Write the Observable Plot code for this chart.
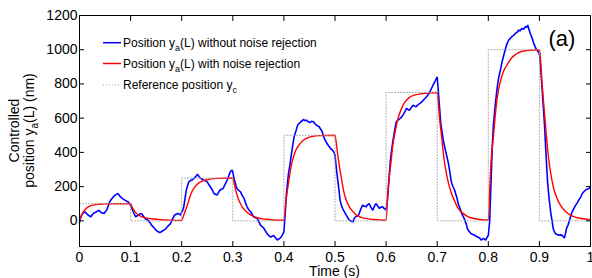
<!DOCTYPE html>
<html><head><meta charset="utf-8">
<script src="https://cdn.jsdelivr.net/npm/d3@7"></script>
<script src="https://cdn.jsdelivr.net/npm/@observablehq/plot@0.6"></script>
<style>html,body{margin:0;padding:0;background:#fff}svg{display:block}</style>
</head><body><div id="chart"></div>
<script>
const xTicks = [0,0.1,0.2,0.3,0.4,0.5,0.6,0.7,0.8,0.9,1];
const yTicks = [0,200,400,600,800,1000,1200];
const legendLabels = ["Position y|a|(L) without noise rejection","Position y|a|(L) with noise rejection","Reference position y|c|"];

// reference position y_c (step levels)
const refPts = [[0,100],[0.1,0],[0.2,250],[0.3,0],[0.4,500],[0.5,0],[0.6,750],[0.7,0],[0.8,1000],[0.9,0],[1,0]];

// with noise rejection
const redPts = [
[0,0],[0.002,18],[0.004,33],[0.007,50],[0.01,62],[0.015,77],[0.02,86],[0.03,94],[0.04,97],[0.05,99],[0.07,100],[0.1,100],
[0.103,80],[0.106,65],[0.11,48],[0.115,35],[0.12,26],[0.128,19],[0.14,12],[0.155,8],[0.175,4],[0.2,2],
[0.203,25],[0.206,50],[0.21,82],[0.215,130],[0.22,170],[0.225,196],[0.23,213],[0.237,228],[0.245,238],[0.255,244],[0.27,248],[0.3,250],
[0.303,215],[0.306,175],[0.309,145],[0.312,120],[0.315,100],[0.32,75],[0.325,58],[0.335,35],[0.348,18],[0.365,9],[0.38,5],[0.4,3],
[0.403,90],[0.406,160],[0.41,240],[0.413,300],[0.417,355],[0.42,385],[0.4235,414],[0.43,445],[0.437,468],[0.445,484],[0.455,493],[0.47,498],[0.5,500],
[0.502,465],[0.505,394],[0.508,330],[0.512,258],[0.515,205],[0.518,160],[0.522,120],[0.528,82],[0.535,55],[0.541,35],[0.55,22],[0.56,14],[0.575,8],[0.593,4],[0.6,3],
[0.603,140],[0.606,250],[0.61,355],[0.613,440],[0.617,511],[0.62,555],[0.6235,600],[0.63,655],[0.637,695],[0.645,720],[0.655,735],[0.676,745],[0.7,750],
[0.702,700],[0.705,589],[0.708,510],[0.712,394],[0.715,330],[0.718,277],[0.722,220],[0.728,160],[0.735,110],[0.741,72],[0.75,45],[0.761,23],[0.775,12],[0.793,5],[0.8,4],
[0.803,200],[0.806,370],[0.81,490],[0.8137,618],[0.818,730],[0.8235,813],[0.83,875],[0.8366,910],[0.845,950],[0.855,975],[0.863,988],[0.875,995],[0.9,1000],
[0.902,950],[0.905,813],[0.908,700],[0.912,560],[0.915,450],[0.918,365],[0.922,280],[0.928,189],[0.934,135],[0.941,92],[0.95,58],[0.961,33],[0.975,18],[0.993,10],[1,8]
];

// without noise rejection
const bluePts = [
[0,-10],[0.002,15],[0.004,33],[0.007,45],[0.0105,53],[0.014,42],[0.017,33],[0.02,28],[0.022,23],[0.025,35],[0.027,43],[0.03,48],[0.033,53],[0.036,58],[0.038,62],[0.041,52],[0.043,47],[0.046,45],[0.048,43],[0.051,55],[0.053,62],[0.056,85],[0.059,111],[0.062,125],[0.066,140],[0.07,150],[0.075,160],[0.077,152],[0.079,144],[0.082,136],[0.084,131],[0.087,124],[0.089,121],[0.092,115],[0.095,111],[0.098,100],[0.1,92],
[0.103,70],[0.105,53],[0.108,35],[0.11,23],[0.113,30],[0.115,33],[0.118,40],[0.121,43],[0.125,28],[0.128,14],[0.131,8],[0.134,4],[0.138,-10],[0.141,-25],[0.144,-35],[0.147,-45],[0.15,-55],[0.154,-64],[0.157,-68],[0.16,-64],[0.163,-58],[0.165,-55],[0.169,-45],[0.172,-35],[0.175,-25],[0.178,-16],[0.182,10],[0.186,33],[0.19,40],[0.193,43],[0.196,38],[0.198,33],[0.2,53],
[0.202,60],[0.204,82],[0.207,140],[0.209,180],[0.212,210],[0.214,228],[0.217,235],[0.22,238],[0.224,248],[0.227,257],[0.229,265],[0.231,273],[0.234,258],[0.237,248],[0.24,243],[0.243,238],[0.247,232],[0.25,228],[0.253,212],[0.256,199],[0.26,180],[0.263,160],[0.266,155],[0.269,150],[0.272,165],[0.275,180],[0.278,185],[0.281,189],[0.285,215],[0.289,238],[0.292,262],[0.295,287],[0.297,292],[0.299,296],
[0.301,270],[0.303,238],[0.306,210],[0.308,189],[0.311,180],[0.315,170],[0.318,150],[0.322,131],[0.325,105],[0.328,82],[0.331,65],[0.335,53],[0.338,38],[0.341,23],[0.345,18],[0.348,14],[0.351,-5],[0.354,-25],[0.358,-35],[0.361,-45],[0.364,-60],[0.367,-74],[0.37,-85],[0.374,-95],[0.377,-90],[0.38,-85],[0.384,-100],[0.387,-112],[0.39,-106],[0.393,-100],[0.396,-88],[0.399,-70],[0.4,-64],
[0.4026,43],[0.405,160],[0.407,220],[0.409,277],[0.412,330],[0.414,375],[0.417,435],[0.42,492],[0.424,530],[0.427,560],[0.43,570],[0.433,579],[0.436,585],[0.438,593],[0.441,585],[0.444,589],[0.447,580],[0.451,574],[0.454,582],[0.458,579],[0.46,570],[0.463,560],[0.466,555],[0.469,550],[0.472,535],[0.475,521],[0.477,500],[0.479,482],[0.482,465],[0.484,453],[0.487,440],[0.489,433],[0.492,420],[0.495,414],[0.498,400],[0.5,384],
[0.503,297],[0.507,199],[0.51,121],[0.512,95],[0.515,72],[0.519,50],[0.522,33],[0.525,18],[0.528,4],[0.532,-2],[0.535,-6],[0.537,10],[0.54,23],[0.543,28],[0.546,33],[0.55,65],[0.554,92],[0.557,85],[0.561,82],[0.564,95],[0.567,101],[0.57,80],[0.574,62],[0.577,85],[0.58,101],[0.584,85],[0.587,72],[0.59,80],[0.593,82],[0.597,70],[0.6,62],
[0.6026,121],[0.6045,200],[0.6065,277],[0.608,340],[0.61,394],[0.613,460],[0.6157,511],[0.618,550],[0.62,579],[0.624,590],[0.627,598],[0.63,605],[0.633,618],[0.637,640],[0.64,657],[0.643,650],[0.646,647],[0.65,665],[0.653,676],[0.656,670],[0.659,667],[0.662,678],[0.666,686],[0.67,695],[0.673,706],[0.676,715],[0.679,725],[0.683,740],[0.686,755],[0.689,775],[0.692,794],[0.695,810],[0.697,823],[0.699,835],[0.7,842],
[0.703,725],[0.707,569],[0.71,510],[0.712,472],[0.714,440],[0.716,414],[0.719,375],[0.722,336],[0.725,280],[0.727,238],[0.729,215],[0.731,199],[0.734,180],[0.736,160],[0.739,130],[0.741,101],[0.745,70],[0.748,43],[0.751,25],[0.754,4],[0.757,-20],[0.759,-45],[0.762,-60],[0.766,-74],[0.77,-80],[0.773,-84],[0.776,-90],[0.779,-94],[0.783,-100],[0.786,-113],[0.788,-108],[0.791,-103],[0.793,-108],[0.795,-113],[0.797,-100],[0.799,-90],[0.8,-84],
[0.8026,-6],[0.8045,150],[0.8065,326],[0.808,450],[0.81,560],[0.813,660],[0.8157,735],[0.818,790],[0.82,832],[0.824,885],[0.827,930],[0.83,965],[0.833,998],[0.836,1030],[0.84,1057],[0.843,1065],[0.846,1076],[0.85,1085],[0.853,1096],[0.856,1100],[0.859,1115],[0.862,1110],[0.866,1125],[0.869,1120],[0.873,1135],[0.875,1130],[0.877,1144],[0.88,1115],[0.882,1096],[0.886,1065],[0.889,1037],[0.892,1015],[0.895,998],[0.898,985],[0.9,979],
[0.903,871],[0.907,696],[0.91,560],[0.912,443],[0.914,330],[0.916,228],[0.919,130],[0.922,53],[0.925,-5],[0.927,-45],[0.929,-60],[0.931,-74],[0.935,-80],[0.938,-84],[0.941,-82],[0.944,-84],[0.947,-92],[0.949,-100],[0.951,-75],[0.953,-45],[0.956,-25],[0.958,-6],[0.961,25],[0.964,53],[0.968,75],[0.971,92],[0.974,105],[0.977,121],[0.981,140],[0.984,160],[0.987,170],[0.99,179],[0.993,185],[0.997,189],[1,199]
];

const FONT = "'Liberation Sans', Arial, Helvetica, sans-serif";
const BLUE = "#0000ff", RED = "#ff0000", GREY = "#a8a8a8";
const fmtX = d => (d === 0 || d === 1) ? String(d) : d.toFixed(1);

const chart = Plot.plot({
  width: 592, height: 278,
  marginLeft: 79, marginRight: 2, marginTop: 15, marginBottom: 32,
  x: {domain: [0, 1]},
  y: {domain: [-150, 1200]},
  style: {fontFamily: FONT, fontSize: "14px", background: "white", color: "black", overflow: "visible"},
  marks: [
    Plot.line(bluePts, {x: d => d[0], y: d => d[1], stroke: BLUE, strokeWidth: 1.6, strokeLinejoin: "miter"}),
    Plot.line(redPts, {x: d => d[0], y: d => d[1], stroke: RED, strokeWidth: 1.4, curve: "monotone-x"}),
    Plot.line(refPts, {x: d => d[0], y: d => d[1], curve: "step-after", stroke: GREY, strokeWidth: 1, strokeDasharray: "1,2"}),
    Plot.frame({stroke: "black", strokeWidth: 1}),
    Plot.axisX(xTicks, {anchor: "bottom", tickSize: 0, tickPadding: 6, tickFormat: fmtX, label: null, fontSize: 14}),
    Plot.axisX(xTicks, {anchor: "bottom", tickSize: -5, tickFormat: () => "", label: null}),
    Plot.axisX(xTicks, {anchor: "top", tickSize: -5, tickFormat: () => "", label: null}),
    Plot.axisY(yTicks, {anchor: "left", tickSize: 0, tickPadding: 2, tickFormat: d => String(d), label: null, fontSize: 14}),
    Plot.axisY(yTicks, {anchor: "left", tickSize: -5, tickFormat: () => "", label: null}),
    Plot.axisY(yTicks, {anchor: "right", tickSize: -5, tickFormat: () => "", label: null})
  ]
});
document.getElementById("chart").appendChild(chart);

const svg = d3.select(chart);
function richText(sel, str, subSize, subDy) {
  const parts = str.split("|");
  parts.forEach((p, i) => {
    if (i % 2 === 0) {
      const t = sel.append("tspan").text(p);
      if (i > 0) t.attr("dy", -subDy);
    } else {
      sel.append("tspan").attr("font-size", subSize).attr("dy", subDy).text(p);
    }
  });
}

// y label
const yl = svg.append("g").attr("font-family", FONT).attr("font-size", 14).attr("fill", "black").attr("text-anchor", "middle");
yl.append("text").attr("transform", "translate(19,130.5) rotate(-90)").text("Controlled");
richText(yl.append("text").attr("transform", "translate(33.5,130.5) rotate(-90)"), "position y|a|(L) (nm)", 10, 4);

// x label
svg.append("text").attr("x", 334.5).attr("y", 276).attr("text-anchor", "middle")
  .attr("font-family", FONT).attr("font-size", 14).attr("fill", "black").text("Time (s)");

// panel tag
svg.append("text").attr("x", 562).attr("y", 46).attr("text-anchor", "middle")
  .attr("font-family", FONT).attr("font-size", 22).attr("fill", "black").text("(a)");

// legend
const lg = svg.append("g").attr("font-family", FONT).attr("font-size", 12).attr("fill", "black").attr("text-anchor", "start");
const legStroke = [BLUE, RED, GREY];
const legRowY = [42.7, 63.5, 85];
legendLabels.forEach((lab, i) => {
  const ln = lg.append("line").attr("x1", 103).attr("x2", 121).attr("y1", legRowY[i]).attr("y2", legRowY[i])
    .attr("stroke", legStroke[i]).attr("stroke-width", i === 2 ? 1 : 1.5);
  if (i === 2) ln.attr("stroke-dasharray", "1,2");
  richText(lg.append("text").attr("x", 123).attr("y", legRowY[i] + 4), lab, 9, 4);
});
</script>
</body></html>
